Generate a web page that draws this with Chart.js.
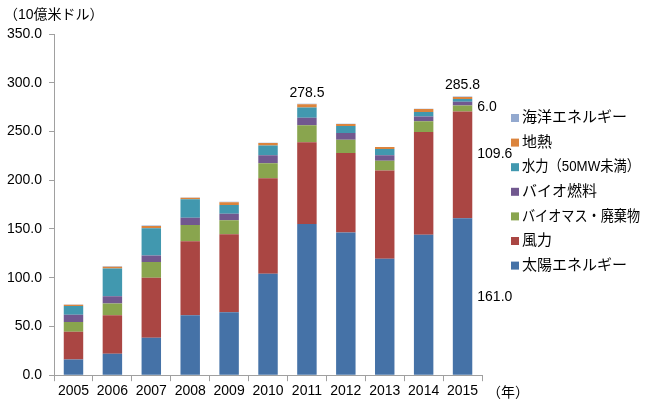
<!DOCTYPE html>
<html>
<head>
<meta charset="utf-8">
<script src="https://cdn.jsdelivr.net/npm/chart.js@4"></script>
<style>
  html, body { margin: 0; padding: 0; background: #fff; }
  #wrap { width: 650px; height: 404px; position: relative; }
</style>
</head>
<body>
<div id="wrap"><canvas id="myChart"></canvas></div>
<script>
const years = ['2005','2006','2007','2008','2009','2010','2011','2012','2013','2014','2015'];

const solar    = [16.0, 22.0, 38.5, 61.5, 64.5, 104.0, 155.0, 146.5, 119.5, 144.0, 161.0];
const wind     = [28.5, 39.5, 61.5, 76.0, 80.0, 98.0, 84.0, 81.5, 90.5, 105.5, 109.6];
const biomass  = [10.0, 12.0, 16.0, 16.5, 14.5, 15.5, 17.5, 13.5, 10.0, 11.0, 6.0];
const biofuel  = [7.5, 7.5, 6.8, 7.5, 6.5, 8.0, 7.5, 7.0, 5.5, 5.0, 4.0];
const hydro    = [9.0, 28.5, 28.0, 19.0, 9.0, 10.0, 10.5, 7.0, 6.5, 4.5, 2.7];
const geo      = [1.3, 1.8, 2.3, 1.5, 3.0, 2.7, 3.5, 2.3, 2.0, 3.0, 2.0];
const ocean    = [0.2, 0.5, 0.4, 0.3, 0.3, 0.3, 0.5, 0.2, 0.2, 0.2, 0.5];

const yTicks = [0, 50, 100, 150, 200, 250, 300, 350];

const FONT = "'Liberation Sans', 'Noto Sans CJK JP', Arial, sans-serif";

const data = {
  labels: years,
  datasets: [
    { label: '太陽エネルギー', data: solar, backgroundColor: '#4572A7' },
    { label: '風力', data: wind, backgroundColor: '#AA4643' },
    { label: 'バイオマス・廃棄物', data: biomass, backgroundColor: '#89A54E' },
    { label: 'バイオ燃料', data: biofuel, backgroundColor: '#71588F' },
    { label: '水力（50MW未満）', data: hydro, backgroundColor: '#4198AF' },
    { label: '地熱', data: geo, backgroundColor: '#DB843D' },
    { label: '海洋エネルギー', data: ocean, backgroundColor: '#93A9CF' }
  ]
};
data.datasets.forEach(ds => {
  ds.borderWidth = 0;
  ds.categoryPercentage = 1.0;
  ds.barPercentage = 0.5;
});

// texts: axis titles, value labels and the legend at the right
const textPlugin = {
  id: 'texts',
  afterDatasetsDraw(chart) {
    const ctx = chart.ctx;
    const x = chart.scales.x, y = chart.scales.y;
    const area = chart.chartArea;
    ctx.save();
    ctx.fillStyle = '#000';
    ctx.font = '14px ' + FONT;
    ctx.textBaseline = 'middle';

    ctx.textAlign = 'left';
    ctx.fillText('（10億米ドル）', 4, 15);
    ctx.fillText('（年）', area.right + 5, 393);

    const totals = years.map((_, i) => solar[i] + wind[i] + biomass[i] + biofuel[i] + hydro[i] + geo[i] + ocean[i]);

    ctx.textAlign = 'center';
    const i11 = years.indexOf('2011');
    ctx.fillText('278.5', x.getPixelForValue(i11), y.getPixelForValue(totals[i11]) - 11);
    const i15 = years.indexOf('2015');
    ctx.fillText('285.8', x.getPixelForValue(i15), y.getPixelForValue(totals[i15]) - 11);

    const bar = chart.getDatasetMeta(0).data[i15];
    const lx = bar.x + bar.width / 2 + 5;
    ctx.textAlign = 'left';
    ctx.fillText(solar[i15].toFixed(1), lx, y.getPixelForValue(solar[i15] / 2));
    ctx.fillText(wind[i15].toFixed(1), lx, y.getPixelForValue(solar[i15] + wind[i15] * 0.6));
    ctx.fillText(biomass[i15].toFixed(1), lx, y.getPixelForValue(solar[i15] + wind[i15] + biomass[i15] / 2) - 1);

    // legend, reversed order
    ctx.font = '15px ' + FONT;
    const sets = chart.data.datasets.slice().reverse();
    const lgX = area.right + 29, lgY = 118, step = 24.6;
    sets.forEach((ds, k) => {
      const cy = lgY + k * step;
      ctx.fillStyle = ds.backgroundColor;
      ctx.fillRect(lgX, cy - 4, 8, 8);
      ctx.fillStyle = '#000';
      ctx.fillText(ds.label, lgX + 11, cy, 118);
    });
    ctx.restore();
  }
};

const config = {
  type: 'bar',
  data: data,
  plugins: [textPlugin],
  options: {
    responsive: true,
    maintainAspectRatio: false,
    animation: false,
    layout: { padding: { left: 0, right: 168, top: 34, bottom: 2 } },
    plugins: {
      tooltip: { enabled: false },
      legend: { display: false }
    },
    scales: {
      x: {
        stacked: true,
        grid: { drawOnChartArea: false, color: '#A0A0A0', tickLength: 6, offset: true },
        border: { color: '#A0A0A0', width: 1 },
        ticks: { color: '#000', font: { size: 14, family: FONT }, padding: 2 }
      },
      y: {
        stacked: true,
        min: 0,
        max: 350,
        afterBuildTicks(scale) { scale.ticks = yTicks.map(v => ({ value: v })); },
        grid: { drawOnChartArea: false, color: '#A0A0A0', tickLength: 5 },
        border: { color: '#A0A0A0', width: 1 },
        ticks: {
          color: '#000',
          font: { size: 14, family: FONT },
          padding: 7,
          callback: v => v.toFixed(1)
        }
      }
    }
  }
};

const myChart = new Chart(document.getElementById('myChart'), config);
</script>
</body>
</html>
